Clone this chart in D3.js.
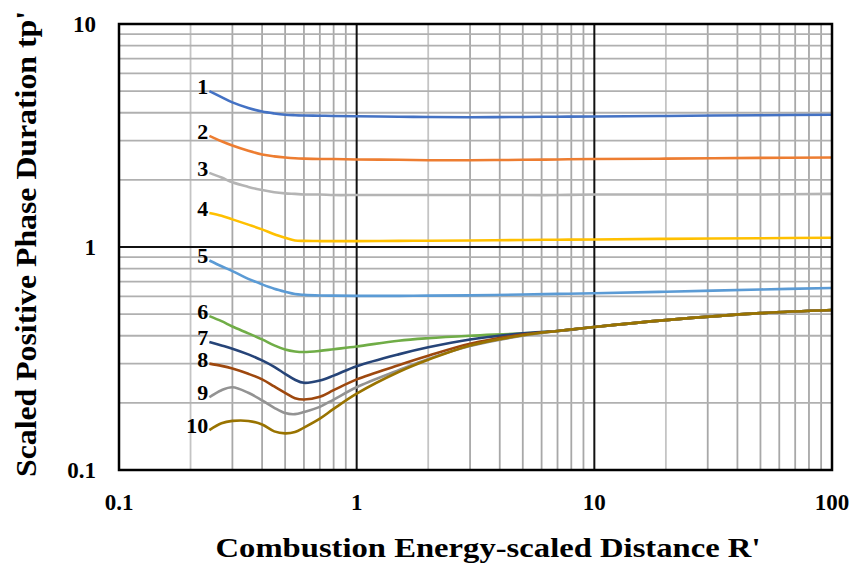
<!DOCTYPE html>
<html lang="en">
<head>
<meta charset="UTF-8">
<title>Scaled Positive Phase Duration</title>
<script src="https://cdn.jsdelivr.net/npm/d3@7"></script>
<style>
  body { margin: 0; background: #fff; }
  text { font-family: "Liberation Serif", "Times New Roman", serif; font-weight: bold; fill: #000; }
</style>
</head>
<body>
<script>
// scaled distance R' sample points shared by every curve
var R = [0.24, 0.27, 0.3, 0.35, 0.4, 0.45, 0.5, 0.55, 0.6, 0.7, 0.8, 1, 1.5, 2, 3, 5, 7, 10, 20, 50, 100];

var s1  = [5.0, 4.7, 4.45, 4.2, 4.05, 3.97, 3.92, 3.9, 3.89, 3.88, 3.87, 3.86, 3.84, 3.83, 3.82, 3.83, 3.84, 3.85, 3.87, 3.9, 3.92];
var s2  = [3.15, 2.98, 2.85, 2.7, 2.6, 2.55, 2.52, 2.5, 2.49, 2.48, 2.48, 2.47, 2.46, 2.45, 2.45, 2.46, 2.47, 2.48, 2.49, 2.51, 2.52];
var s3  = [2.15, 2.05, 1.95, 1.86, 1.8, 1.76, 1.74, 1.73, 1.72, 1.72, 1.71, 1.71, 1.71, 1.71, 1.71, 1.71, 1.71, 1.72, 1.72, 1.72, 1.73];
var s4  = [1.42, 1.38, 1.33, 1.26, 1.2, 1.14, 1.1, 1.07, 1.065, 1.063, 1.063, 1.063, 1.065, 1.067, 1.07, 1.075, 1.078, 1.08, 1.088, 1.095, 1.1];
var s5  = [0.87, 0.82, 0.78, 0.72, 0.68, 0.65, 0.63, 0.615, 0.61, 0.606, 0.605, 0.604, 0.604, 0.605, 0.607, 0.612, 0.616, 0.62, 0.63, 0.645, 0.655];
var s6  = [0.49, 0.465, 0.44, 0.41, 0.385, 0.362, 0.347, 0.34, 0.338, 0.342, 0.348, 0.358, 0.38, 0.39, 0.4, 0.41, 0.42, 0.438, 0.47, 0.505, 0.522];
var s7  = [0.375, 0.362, 0.35, 0.33, 0.31, 0.29, 0.27, 0.254, 0.246, 0.252, 0.265, 0.292, 0.33, 0.355, 0.385, 0.41, 0.42, 0.438, 0.47, 0.505, 0.522];
var s8  = [0.3, 0.293, 0.285, 0.27, 0.255, 0.237, 0.222, 0.21, 0.207, 0.213, 0.228, 0.255, 0.295, 0.325, 0.368, 0.405, 0.42, 0.438, 0.47, 0.505, 0.522];
var s9  = [0.212, 0.228, 0.235, 0.222, 0.205, 0.19, 0.18, 0.178, 0.182, 0.192, 0.207, 0.235, 0.28, 0.315, 0.36, 0.4, 0.42, 0.438, 0.47, 0.505, 0.522];
var s10 = [0.151, 0.162, 0.166, 0.166, 0.16, 0.149, 0.146, 0.148, 0.155, 0.17, 0.188, 0.22, 0.275, 0.312, 0.362, 0.402, 0.42, 0.438, 0.47, 0.505, 0.522];

var seriesNames = ["1", "2", "3", "4", "5", "6", "7", "8", "9", "10"];
var seriesValues = [s1, s2, s3, s4, s5, s6, s7, s8, s9, s10];
var colors = ["#4472c4", "#ed7d31", "#b4b4b4", "#ffc000", "#5b9bd5", "#70ad47", "#264478", "#9e480e", "#939393", "#997300"];

var xTicks = [0.1, 1, 10, 100];
var yTicks = [0.1, 1, 10];
var xTickLabels = ["0.1", "1", "10", "100"];
var yTickLabels = ["0.1", "1", "10"];

var W = 853, H = 565;
var margin = {left: 119, top: 24, right: 21, bottom: 95};
var w = W - margin.left - margin.right,
    h = H - margin.top - margin.bottom;

var svg = d3.select("body").append("svg").attr("width", W).attr("height", H);
var g = svg.append("g").attr("transform", "translate(" + margin.left + "," + margin.top + ")");

var x = d3.scaleLog().domain([0.1, 100]).range([0, w]);
var y = d3.scaleLog().domain([0.1, 10]).range([h, 0]);

// minor grid (2..9 in every decade)
var minorX = [], minorY = [];
[0.1, 1, 10].forEach(function(d) {
    for (var k = 2; k <= 9; k++) minorX.push(d * k);
});
[0.1, 1].forEach(function(d) {
    for (var k = 2; k <= 9; k++) minorY.push(d * k);
});

g.selectAll(".mx").data(minorX).enter().append("line")
    .attr("x1", function(d) { return x(d); }).attr("x2", function(d) { return x(d); })
    .attr("y1", 0).attr("y2", h)
    .attr("stroke", function(d, i) { return i % 8 == 0 ? "#c4c4c4" : "#a8a8a8"; })
    .attr("stroke-width", 1.8);

g.selectAll(".my").data(minorY).enter().append("line")
    .attr("y1", function(d) { return y(d); }).attr("y2", function(d) { return y(d); })
    .attr("x1", 0).attr("x2", w)
    .attr("stroke", "#b0b0b0")
    .attr("stroke-width", 1.8);

// major grid
g.selectAll(".Mx").data(xTicks).enter().append("line")
    .attr("x1", function(d) { return x(d); }).attr("x2", function(d) { return x(d); })
    .attr("y1", 0).attr("y2", h)
    .attr("stroke", "#111").attr("stroke-width", 2);
g.selectAll(".My").data(yTicks).enter().append("line")
    .attr("y1", function(d) { return y(d); }).attr("y2", function(d) { return y(d); })
    .attr("x1", 0).attr("x2", w)
    .attr("stroke", "#111").attr("stroke-width", 2);

// curves
var line = d3.line()
    .x(function(d) { return x(d[0]); })
    .y(function(d) { return y(d[1]); })
    .curve(d3.curveCatmullRom.alpha(0.5));

seriesValues.forEach(function(vals, i) {
    var pts = R.map(function(r, j) { return [r, vals[j]]; });
    g.append("path")
        .datum(pts)
        .attr("fill", "none")
        .attr("stroke", colors[i])
        .attr("stroke-width", 2.6)
        .attr("d", line);
});

// curve number labels
g.selectAll(".lab").data(seriesNames).enter().append("text")
    .attr("x", x(R[0]) - 1)
    .attr("y", function(d, i) { return y(seriesValues[i][0]) + 3; })
    .attr("text-anchor", "end")
    .attr("font-size", 22)
    .text(function(d) { return d; });

// frame
g.append("rect").attr("width", w).attr("height", h)
    .attr("fill", "none").attr("stroke", "#000").attr("stroke-width", 2.5);

// tick labels
g.selectAll(".xt").data(xTicks).enter().append("text")
    .attr("x", function(d) { return x(d); })
    .attr("y", h + 40)
    .attr("text-anchor", "middle")
    .attr("font-size", 23)
    .text(function(d, i) { return xTickLabels[i]; });

g.selectAll(".yt").data(yTicks).enter().append("text")
    .attr("x", -23)
    .attr("y", function(d) { return y(d); })
    .attr("dy", "0.35em")
    .attr("text-anchor", "end")
    .attr("font-size", 23)
    .text(function(d, i) { return yTickLabels[i]; });

// axis titles
svg.append("text")
    .attr("x", 488).attr("y", 557)
    .attr("text-anchor", "middle")
    .attr("font-size", 28)
    .attr("textLength", 545).attr("lengthAdjust", "spacingAndGlyphs")
    .text("Combustion Energy-scaled Distance R'");

svg.append("text")
    .attr("transform", "translate(36,244) rotate(-90)")
    .attr("text-anchor", "middle")
    .attr("font-size", 29)
    .attr("textLength", 466).attr("lengthAdjust", "spacingAndGlyphs")
    .text("Scaled Positive Phase Duration tp'");
</script>
</body>
</html>
